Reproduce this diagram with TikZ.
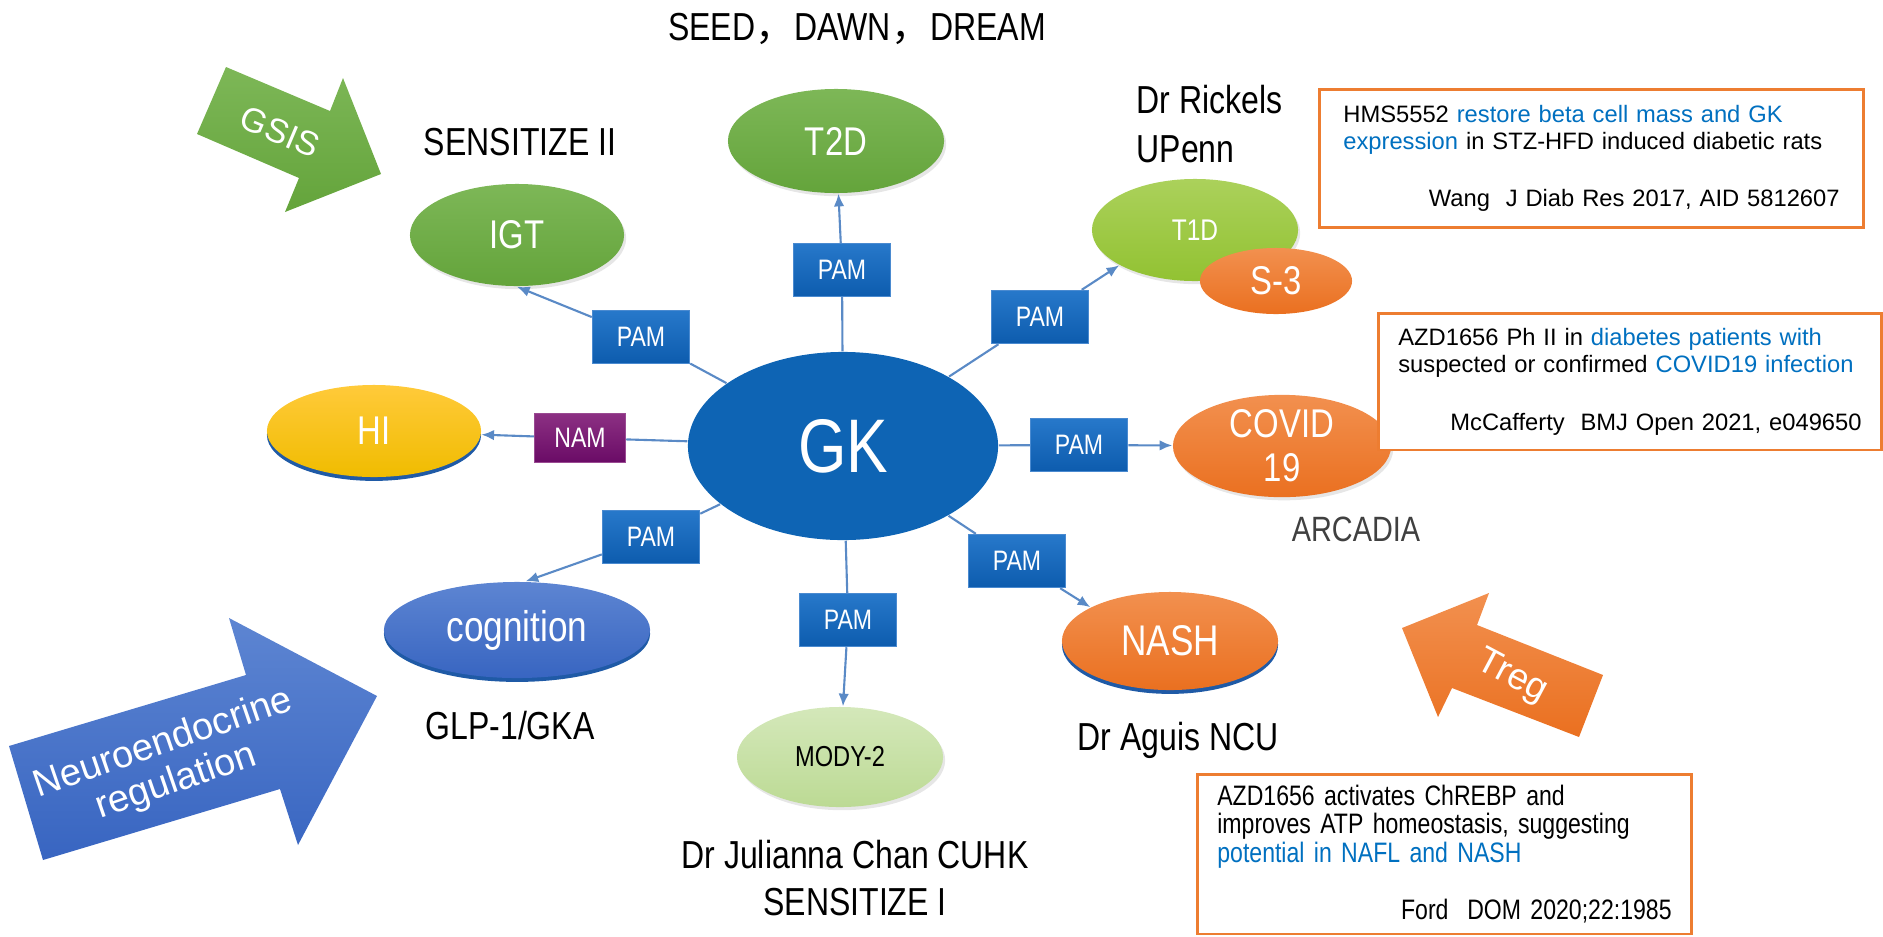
\documentclass[tikz,border=0pt]{standalone}
\usepackage{fontspec}
\setmainfont{Liberation Sans}
\newfontfamily\narrowfont[FakeStretch=0.82]{Liberation Sans}
\newfontfamily\cjk{Noto Sans CJK SC}
\usetikzlibrary{shapes.geometric,arrows.meta,shadows}
\definecolor{gkblue}{HTML}{0E64B4}
\definecolor{pamtop}{HTML}{2778CA}
\definecolor{pambot}{HTML}{0D5CAE}
\definecolor{pamedge}{HTML}{4A8AD0}
\definecolor{namtop}{HTML}{8C3083}
\definecolor{nambot}{HTML}{6A0B66}
\definecolor{namedge}{HTML}{9A4A92}
\definecolor{spokeblue}{HTML}{5A8AC6}
\definecolor{greentop}{HTML}{7DB757}
\definecolor{greenbot}{HTML}{64A43B}
\definecolor{limetop}{HTML}{ABD15B}
\definecolor{limebot}{HTML}{92C232}
\definecolor{orangetop}{HTML}{F2904F}
\definecolor{orangebot}{HTML}{EA7020}
\definecolor{goldtop}{HTML}{FFCA3A}
\definecolor{goldbot}{HTML}{F0BC00}
\definecolor{cogtop}{HTML}{5D85D2}
\definecolor{cogbot}{HTML}{3865C1}
\definecolor{modytop}{HTML}{D4E8BA}
\definecolor{modybot}{HTML}{BCDA94}
\definecolor{shadowblue}{HTML}{1F5AA6}
\definecolor{boxorange}{HTML}{ED7D31}
\definecolor{txtblue}{HTML}{0070C0}
\definecolor{arcgray}{HTML}{404040}
\tikzset{bubble/.style={ellipse, inner sep=0pt, text=white, font=\narrowfont\fontsize{11.4}{13}\selectfont},
  size/.style 2 args={minimum width=#1, minimum height=#2},
  softshadow/.style={drop shadow={opacity=0.2, shadow xshift=0.6pt, shadow yshift=-0.9pt}},
  blueshadow/.style={general shadow={fill=shadowblue, shadow yshift=-1.1pt}},
  pambox/.style={rectangle, draw=pamedge, top color=pamtop, bottom color=pambot, minimum width=0.97cm, minimum height=0.53cm, inner sep=0pt, text=white, font=\narrowfont\fontsize{8}{9}\selectfont},
  spoke/.style={draw=spokeblue, line width=0.6pt},
  spokearrow/.style={spoke, -{Latex[length=3.6pt,width=3pt]}},
  lbl/.style={inner sep=0pt, font=\narrowfont\fontsize{11.1}{13.6}\selectfont},
  refbox/.style={rectangle, draw=boxorange, line width=0.75pt, fill=white, align=left, inner xsep=0.2cm, font=\fontsize{6.75}{7.7}\selectfont}}

\begin{document}
\begin{tikzpicture}[x=0.01cm, y=-0.01cm]
  \useasboundingbox (0,0) rectangle (1883,936);
  \shade[top color=greentop, bottom color=greenbot] (226,67) -- (330,111) -- (343,78) -- (381,174) -- (285,212) -- (299,178) -- (197,134) -- cycle;
  \node[rotate=-23, text=white, font=\fontsize{9.7}{11}\selectfont] (gsis) at (280,132) {GSIS};
  \shade[top color=cogtop, bottom color=cogbot] (9,746) -- (246,675) -- (229,618) -- (377,696) -- (298,845) -- (280,789) -- (43,860) -- cycle;
  \node[rotate=19, align=center, text=white, font=\fontsize{10.8}{11.5}\selectfont] (neuro) at (170,763) {Neuroendocrine\\regulation};
  \shade[top color=orangetop, bottom color=orangebot] (1402,628) -- (1489,593) -- (1477,625) -- (1603,675) -- (1579,737) -- (1452,688) -- (1438,717) -- cycle;
  \node[rotate=-28, text=white, font=\fontsize{10.5}{12}\selectfont] (treg) at (1512,677) {Treg};

  \node[lbl, anchor=base] (title) at (857,40) {SEED{\cjk ，}DAWN{\cjk ，}DREAM};
  \node[lbl, anchor=base] (sens2) at (520,155) {SENSITIZE II};
  \node[lbl, anchor=base west, align=left, font=\narrowfont\fontsize{11.1}{13.9}\selectfont] (rickels) at (1136,162) {Dr Rickels\\UPenn};
  \node[lbl, anchor=base, text=arcgray, font=\narrowfont\fontsize{10}{12}\selectfont] (arcadia) at (1356,541) {ARCADIA};
  \node[lbl, anchor=base] (glp) at (510,739) {GLP-1/GKA};
  \node[lbl, anchor=base] (aguis) at (1178,750) {Dr Aguis NCU};
  \node[lbl, anchor=base, align=center, font=\narrowfont\fontsize{11.1}{13.1}\selectfont] (chan) at (855,915) {Dr Julianna Chan CUHK\\SENSITIZE I};

  \node[ellipse, fill=gkblue, size={3.10cm}{1.88cm}, inner sep=0pt, text=white, font=\narrowfont\fontsize{21.6}{24}\selectfont] (gk) at (843,446) {GK};
  \node[bubble, softshadow, top color=greentop, bottom color=greenbot, size={2.14cm}{1.02cm}] (igt) at (517,235) {IGT};
  \node[bubble, softshadow, top color=greentop, bottom color=greenbot, size={2.16cm}{1.04cm}] (t2d) at (836,141) {T2D};
  \node[bubble, softshadow, top color=limetop, bottom color=limebot, size={2.06cm}{1.02cm}, font=\narrowfont\fontsize{8.5}{10}\selectfont] (t1d) at (1195,230) {T1D};
  \node[bubble, top color=orangetop, bottom color=orangebot, size={1.52cm}{0.66cm}] (s3) at (1276,281) {S-3};
  \node[bubble, softshadow, top color=orangetop, bottom color=orangebot, size={2.18cm}{0.98cm}, align=center, font=\narrowfont\fontsize{11.4}{12.5}\selectfont] (covid) at (1282,446) {COVID\\19};
  \node[bubble, blueshadow, top color=orangetop, bottom color=orangebot, size={2.16cm}{0.98cm}, font=\narrowfont\fontsize{12.2}{14}\selectfont] (nash) at (1170,641) {NASH};
  \node[bubble, softshadow, top color=modytop, bottom color=modybot, size={2.06cm}{1.00cm}, text=black, font=\narrowfont\fontsize{8.2}{10}\selectfont] (mody) at (840,757) {MODY-2};
  \node[bubble, blueshadow, top color=cogtop, bottom color=cogbot, size={2.66cm}{0.96cm}, font=\narrowfont\fontsize{12.2}{14}\selectfont] (cog) at (517,630) {cognition};
  \node[bubble, blueshadow, top color=goldtop, bottom color=goldbot, size={2.14cm}{0.92cm}] (hi) at (374,431) {HI};

  \node[pambox] (pamigt) at (641,337) {PAM};
  \node[pambox] (pamt2d) at (842,270) {PAM};
  \node[pambox] (pamt1d) at (1040,317) {PAM};
  \node[pambox] (pamcovid) at (1079,445) {PAM};
  \node[pambox] (pamnash) at (1017,561) {PAM};
  \node[pambox] (pammody) at (848,620) {PAM};
  \node[pambox] (pamcog) at (651,537) {PAM};
  \node[pambox, draw=namedge, top color=namtop, bottom color=nambot, size={0.91cm}{0.49cm}] (nam) at (580,438) {NAM};

  \draw[spoke] (gk) -- (pamigt);
  \draw[spokearrow] (pamigt) -- (igt.south);
  \draw[spoke] (gk) -- (pamt2d);
  \draw[spokearrow] (pamt2d) -- (t2d);
  \draw[spoke] (gk) -- (pamt1d);
  \draw[spokearrow] (pamt1d) -- (t1d.205);
  \draw[spoke] (gk) -- (pamcovid);
  \draw[spokearrow] (pamcovid) -- (covid);
  \draw[spoke] (gk) -- (pamnash);
  \draw[spokearrow] (pamnash) -- (nash.157);
  \draw[spoke] (gk) -- (pammody);
  \draw[spokearrow] (pammody) -- (mody);
  \draw[spoke] (gk) -- (pamcog);
  \draw[spokearrow] (pamcog) -- (cog.80);
  \draw[spoke] (gk) -- (nam);
  \draw[spokearrow] (nam) -- (hi);

  \node[refbox, anchor=north west, text width=4.96cm, inner xsep=0.24cm, inner ysep=0.16cm] (hmsbox) at (1318,88) {HMS5552 \textcolor{txtblue}{restore beta cell mass and GK}\\\textcolor{txtblue}{expression} in STZ-HFD induced diabetic rats\\[8.5pt]\hspace*{\fill}Wang\ \ J Diab Res 2017, AID 5812607};
  \node[refbox, anchor=north west, text width=4.63cm, inner ysep=0.145cm] (azdbox) at (1377,312) {AZD1656 Ph II in \textcolor{txtblue}{diabetes patients with}\\suspected or confirmed \textcolor{txtblue}{COVID19 infection}\\[8.9pt]\hspace*{\fill}McCafferty\ \ BMJ Open 2021, e049650\hspace*{-0.14cm}};
  \node[refbox, anchor=north west, text width=4.54cm, inner ysep=0.105cm, font=\narrowfont\fontsize{8}{8.1}\selectfont] (fordbox) at (1196,773) {AZD1656 activates ChREBP and\\improves ATP homeostasis, suggesting\\\textcolor{txtblue}{potential in NAFL and NASH}\\[8.3pt]\hspace*{\fill}Ford\ \ DOM 2020;22:1985};
\end{tikzpicture}
\end{document}
